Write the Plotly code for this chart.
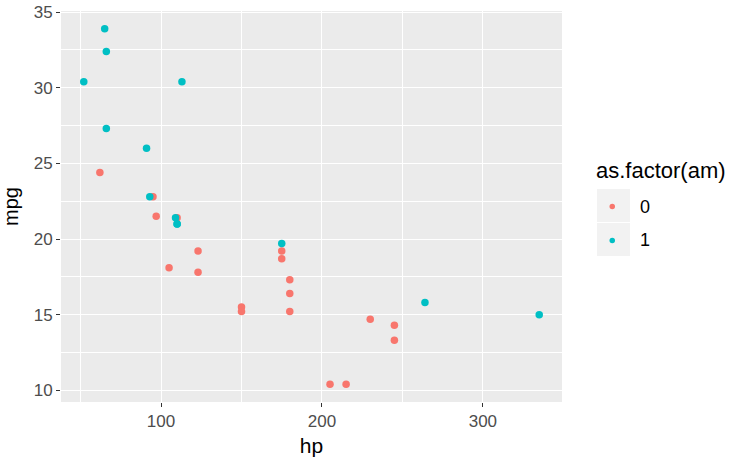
import plotly.graph_objects as go

hp = [110, 110, 93, 110, 175, 105, 245, 62, 95, 123, 123, 180, 180, 180, 205, 215,
      230, 66, 52, 65, 97, 150, 150, 245, 175, 66, 91, 113, 264, 175, 335, 109]
mpg = [21.0, 21.0, 22.8, 21.4, 18.7, 18.1, 14.3, 24.4, 22.8, 19.2, 17.8, 16.4, 17.3, 15.2, 10.4, 10.4,
       14.7, 32.4, 30.4, 33.9, 21.5, 15.5, 15.2, 13.3, 19.2, 27.3, 26.0, 30.4, 15.8, 19.7, 15.0, 21.4]
am = [1, 1, 1, 0, 0, 0, 0, 0, 0, 0, 0, 0, 0, 0, 0, 0,
      0, 1, 1, 1, 0, 0, 0, 0, 0, 1, 1, 1, 1, 1, 1, 1]
levels = ["0", "1"]
colors = {"0": "#F8766D", "1": "#00BFC4"}
x_ticks = [100, 200, 300]
y_ticks = [10, 15, 20, 25, 30, 35]

W, H = 739, 463
L, R, T, B = 61, 562, 11, 402
pw, ph = R - L, B - T

def px2x(px):
    return (px - L) / pw

def px2y(py):
    return (B - py) / ph

fig = go.Figure()
for lv in levels:
    xs = [h for h, a in zip(hp, am) if str(a) == lv]
    ys = [m for m, a in zip(mpg, am) if str(a) == lv]
    fig.add_trace(go.Scatter(x=xs, y=ys, mode="markers", showlegend=False,
                             marker=dict(color=colors[lv], size=7.5, line=dict(width=0))))

xmin, xmax = min(hp), max(hp)
ymin, ymax = min(mpg), max(mpg)
xe = (xmax - xmin) * 0.05
ye = (ymax - ymin) * 0.05

FONT = "Liberation Sans, Arial"
tickfont = dict(family=FONT, size=17, color="#4D4D4D")
fig.update_xaxes(range=[xmin - xe, xmax + xe], tickvals=x_ticks, ticks="outside", ticklen=4,
                 tickcolor="#333333", tickwidth=1, showgrid=True, gridcolor="white", gridwidth=1.4,
                 zeroline=False, showline=False, tickfont=tickfont, automargin=False,
                 minor=dict(tickvals=[50, 150, 250, 350], showgrid=True, gridcolor="white", gridwidth=0.7, ticks=""),
                 title=dict(text="hp", font=dict(family=FONT, size=21, color="black"), standoff=7))
fig.update_yaxes(range=[ymin - ye, ymax + ye], tickvals=y_ticks, ticks="outside", ticklen=4,
                 tickcolor="#333333", tickwidth=1, showgrid=True, gridcolor="white", gridwidth=1.4,
                 zeroline=False, showline=False, tickfont=tickfont, automargin=False,
                 minor=dict(tickvals=[12.5, 17.5, 22.5, 27.5, 32.5], showgrid=True, gridcolor="white", gridwidth=0.7, ticks=""),
                 title=dict(text="mpg", font=dict(family=FONT, size=20, color="black"), standoff=9))

shapes = []
annotations = [dict(text="as.factor(am)", x=px2x(594), y=px2y(170), xref="paper", yref="paper",
                    xanchor="left", yanchor="middle", showarrow=False,
                    font=dict(family=FONT, size=22, color="black"))]
key_tops = [189, 223]
for lv, top in zip(levels, key_tops):
    shapes.append(dict(type="rect", xref="paper", yref="paper", x0=px2x(597), x1=px2x(630),
                       y0=px2y(top), y1=px2y(top + 33), fillcolor="#F2F2F2", line=dict(width=0), layer="below"))
    cy = top + 17.5
    shapes.append(dict(type="circle", xref="paper", yref="paper", x0=px2x(609.5), x1=px2x(615),
                       y0=px2y(cy - 2.8), y1=px2y(cy + 2.8), fillcolor=colors[lv], line=dict(width=0)))
    annotations.append(dict(text=lv, x=px2x(638), y=px2y(cy), xref="paper", yref="paper",
                            xanchor="left", yanchor="middle", showarrow=False,
                            font=dict(family=FONT, size=18, color="black")))

fig.update_layout(width=W, height=H, margin=dict(l=L, r=W - R, t=T, b=H - B),
                  plot_bgcolor="#EBEBEB", paper_bgcolor="white", showlegend=False,
                  shapes=shapes, annotations=annotations)
fig.write_html("out.html")
